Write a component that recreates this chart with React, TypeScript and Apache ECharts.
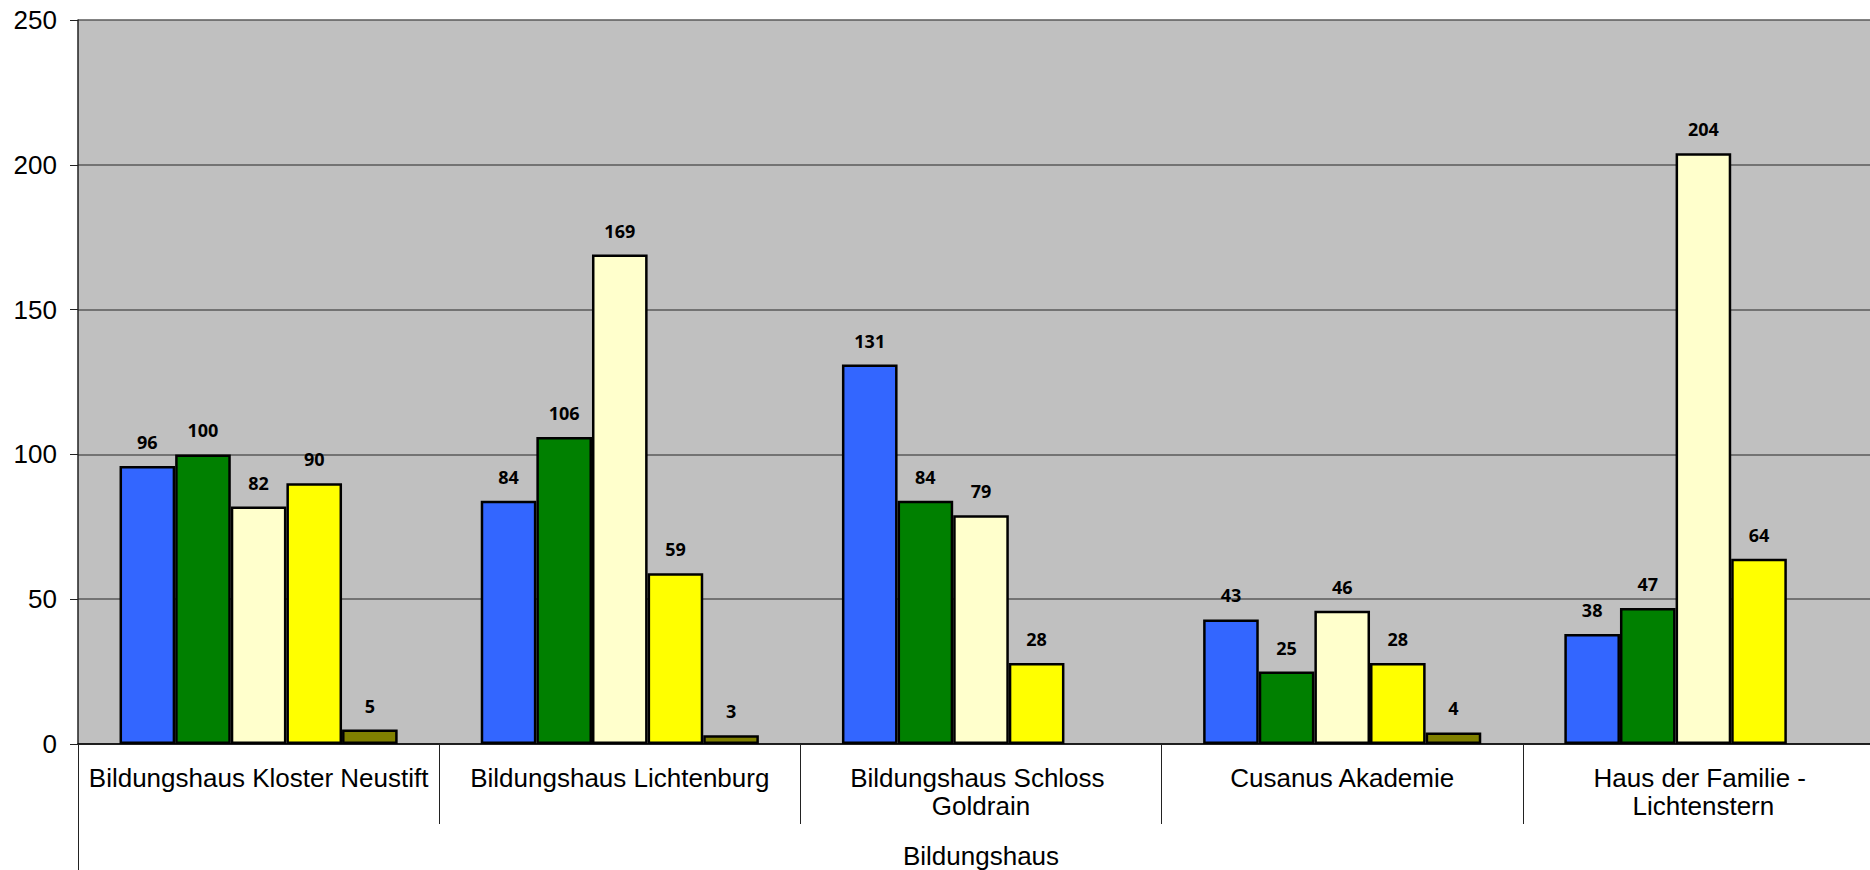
import React, { useEffect, useRef } from "react";
import * as echarts from "echarts";

const categories = [
  "Bildungshaus Kloster Neustift",
  "Bildungshaus Lichtenburg",
  "Bildungshaus Schloss Goldrain",
  "Cusanus Akademie",
  "Haus der Familie - Lichtenstern",
];
const groupTitle = ["Bildungshaus"];

const seriesBlue = [96, 84, 131, 43, 38];
const seriesGreen = [100, 106, 84, 25, 47];
const seriesCream = [82, 169, 79, 46, 204];
const seriesYellow = [90, 59, 28, 28, 64];
const seriesOlive: (number | null)[] = [5, 3, null, 4, null];

const seriesList = [
  { name: "S1", data: seriesBlue, color: "#3366FF" },
  { name: "S2", data: seriesGreen, color: "#008000" },
  { name: "S3", data: seriesCream, color: "#FFFFCC" },
  { name: "S4", data: seriesYellow, color: "#FFFF00" },
  { name: "S5", data: seriesOlive, color: "#808000" },
];

const yTicks = { min: 0, max: 250, interval: 50 };

export default function App() {
  const ref = useRef<HTMLDivElement>(null);
  useEffect(() => {
    if (!ref.current) return;
    const chart = echarts.init(ref.current, undefined, { renderer: "svg" });
    const axisFont = "'Liberation Sans', Arial, sans-serif";
    chart.setOption({
      animation: false,
      backgroundColor: "#ffffff",
      grid: {
        left: 78,
        right: 0,
        top: 20,
        bottom: 124,
        show: true,
        backgroundColor: "#C0C0C0",
        borderWidth: 0,
      },
      xAxis: [
        {
          type: "category",
          data: categories,
          position: "bottom",
          axisLine: { show: true, lineStyle: { color: "#000", width: 1.5 } },
          axisTick: {
            show: true,
            interval: 0,
            alignWithLabel: false,
            length: 80,
            lineStyle: { color: "#222", width: 1 },
          },
          axisLabel: {
            interval: 0,
            margin: 20,
            color: "#000",
            fontFamily: axisFont,
            fontSize: 26,
            lineHeight: 28,
            width: 350,
            overflow: "break",
            align: "center",
          },
          splitLine: { show: false },
        },
        {
          type: "category",
          data: groupTitle,
          position: "bottom",
          axisLine: { show: false },
          axisTick: {
            show: true,
            interval: 0,
            alignWithLabel: false,
            length: 130,
            lineStyle: { color: "#222", width: 1 },
          },
          axisLabel: {
            interval: 0,
            margin: 98,
            color: "#000",
            fontFamily: axisFont,
            fontSize: 26,
            lineHeight: 28,
          },
          splitLine: { show: false },
        },
      ],
      yAxis: {
        type: "value",
        min: yTicks.min,
        max: yTicks.max,
        interval: yTicks.interval,
        axisLine: { show: true, lineStyle: { color: "#222", width: 1.5 } },
        axisTick: { show: true, inside: false, length: 8, lineStyle: { color: "#222", width: 1 } },
        axisLabel: {
          margin: 21,
          color: "#000",
          fontFamily: axisFont,
          fontSize: 26,
        },
        splitLine: { show: true, lineStyle: { color: "#5a5a5a", width: 1.5 } },
      },
      series: seriesList.map((s) => ({
        type: "bar",
        name: s.name,
        data: s.data,
        xAxisIndex: 0,
        barGap: "0%",
        barCategoryGap: "23%",
        itemStyle: { color: s.color, borderColor: "#000", borderWidth: 2.5 },
        label: {
          show: true,
          position: "top",
          distance: 15,
          color: "#000",
          fontFamily: "'Open Sans', sans-serif",
          fontWeight: "bold",
          fontSize: 18,
        },
      })),
    });
    return () => chart.dispose();
  }, []);
  return (
    <div
      style={{
        position: "fixed",
        left: 0,
        top: 0,
        width: 1870,
        height: 870,
        overflow: "hidden",
        background: "#fff",
      }}
    >
      <div ref={ref} style={{ width: 1884, height: 870 }} />
    </div>
  );
}
